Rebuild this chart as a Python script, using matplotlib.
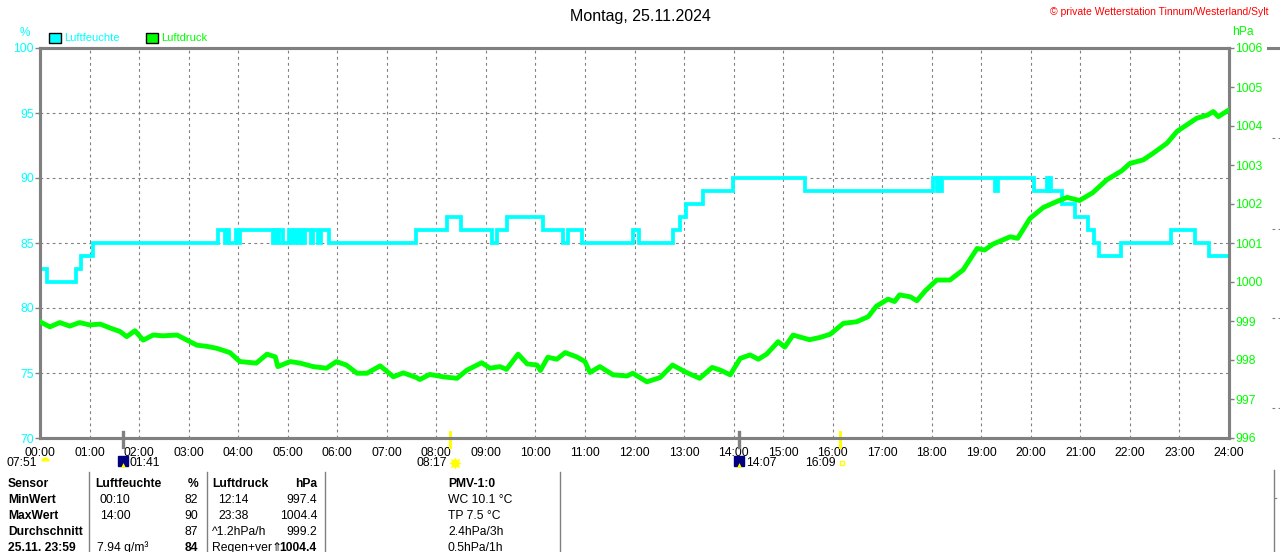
import matplotlib
matplotlib.use("Agg")
import matplotlib.pyplot as plt
from matplotlib.patches import Patch
from matplotlib.lines import Line2D

plt.rcParams['font.family'] = ['Liberation Sans', 'DejaVu Sans']

CYAN = '#00FFFF'
GREEN = '#00FF00'
GRAY = '#808080'
YELLOW = '#FFFF00'
NAVY = '#000080'

# --- Daten: Luftfeuchte (Stufen, Zeitpunkt der Änderung -> Wert in %) ---
hum_times = ["00:00", "00:09", "00:44", "00:50", "01:04", "03:35", "03:44", "03:46", "03:49",
             "03:57", "04:00", "04:02", "04:42", "04:44", "04:47", "04:50", "04:54", "05:02",
             "05:05", "05:09", "05:13", "05:16", "05:18", "05:21", "05:28", "05:31", "05:37",
             "05:40", "05:50", "07:35", "08:13", "08:30", "09:08", "09:13", "09:26", "10:09",
             "10:34", "10:40", "10:56", "11:58", "12:05", "12:47", "12:55", "13:02", "13:23",
             "13:59", "15:26", "18:02", "18:06", "18:08", "18:10", "18:13", "19:17", "19:20",
             "20:04", "20:19", "20:21", "20:23", "20:25", "20:38", "20:53", "21:09", "21:17",
             "21:23", "21:49", "22:50", "23:19", "23:36", "24:00"]
hum_values = [83, 82, 83, 84, 85, 86, 85, 86, 85,
              86, 85, 86, 85, 86, 85, 86, 85, 86,
              85, 86, 85, 86, 85, 86, 85, 86, 85,
              86, 85, 86, 87, 86, 85, 86, 87, 86,
              85, 86, 85, 86, 85, 86, 87, 88, 89,
              90, 89, 90, 89, 90, 89, 90, 89, 90,
              89, 90, 89, 90, 89, 88, 87, 86, 85,
              84, 85, 86, 85, 84, 84]

# --- Daten: Luftdruck in hPa ---
p_times = ["00:00", "00:12", "00:24", "00:36", "00:48", "01:00", "01:13", "01:25", "01:37",
           "01:45", "01:55", "02:05", "02:17", "02:29", "02:46", "02:58", "03:10", "03:22",
           "03:34", "03:50", "04:02", "04:22", "04:35", "04:45", "04:48", "05:03", "05:15",
           "05:31", "05:47", "05:59", "06:11", "06:24", "06:36", "06:52", "07:08", "07:20",
           "07:36", "07:40", "07:52", "08:08", "08:25", "08:37", "08:55", "09:05", "09:17",
           "09:25", "09:39", "09:50", "10:02", "10:06", "10:15", "10:26", "10:36", "10:50",
           "11:00", "11:06", "11:18", "11:34", "11:51", "11:58", "12:15", "12:31", "12:46",
           "13:03", "13:19", "13:34", "13:44", "13:56", "14:08", "14:20", "14:30", "14:40",
           "14:54", "15:02", "15:12", "15:32", "15:45", "15:57", "16:13", "16:29", "16:43",
           "16:53", "17:07", "17:15", "17:21", "17:34", "17:42", "17:52", "18:06", "18:22",
           "18:38", "18:55", "19:04", "19:14", "19:35", "19:44", "19:59", "20:15", "20:31",
           "20:44", "20:59", "21:15", "21:32", "21:50", "22:00", "22:16", "22:28", "22:45",
           "22:57", "23:09", "23:21", "23:34", "23:41", "23:47", "23:59"]
p_values = [998.98, 998.85, 998.96, 998.87, 998.96, 998.90, 998.92, 998.82, 998.73,
            998.60, 998.75, 998.51, 998.64, 998.62, 998.64, 998.51, 998.38, 998.35,
            998.30, 998.19, 997.96, 997.92, 998.15, 998.08, 997.83, 997.96, 997.92,
            997.83, 997.79, 997.96, 997.87, 997.66, 997.66, 997.85, 997.57, 997.67,
            997.55, 997.50, 997.63, 997.57, 997.53, 997.74, 997.93, 997.79, 997.83,
            997.76, 998.15, 997.90, 997.87, 997.73, 998.07, 998.02, 998.19, 998.08,
            997.96, 997.68, 997.83, 997.62, 997.59, 997.66, 997.44, 997.55, 997.87,
            997.68, 997.53, 997.81, 997.74, 997.62, 998.04, 998.13, 998.02, 998.15,
            998.47, 998.33, 998.64, 998.52, 998.58, 998.66, 998.94, 998.98, 999.11,
            999.38, 999.56, 999.50, 999.67, 999.62, 999.52, 999.77, 1000.05, 1000.05,
            1000.31, 1000.86, 1000.82, 1000.97, 1001.16, 1001.12, 1001.63, 1001.91, 1002.06,
            1002.17, 1002.09, 1002.29, 1002.62, 1002.85, 1003.04, 1003.13, 1003.30, 1003.56,
            1003.86, 1004.03, 1004.20, 1004.28, 1004.37, 1004.24, 1004.40]

hours = list(range(25))
hour_labels = [f"{h:02d}:00" for h in hours]
hum_ticks = [70, 75, 80, 85, 90, 95, 100]
p_ticks = list(range(996, 1007))

# Sonne / Mond
dawn_label = "07:51"
sun_times = ["08:17", "16:09"]
moon_times = ["01:41", "14:07"]

# Tabelle unten
tab_sensor = ["Sensor", "MinWert", "MaxWert", "Durchschnitt", "25.11. 23:59"]
tab_hum_time = ["Luftfeuchte", "00:10", "14:00", "", "7.94 g/m³"]
tab_hum_val = ["%", "82", "90", "87", "84"]
tab_p_time = ["Luftdruck", "12:14", "23:38", "^1.2hPa/h", "Regen+ver⇑"]
tab_p_val = ["hPa", "997.4", "1004.4", "999.2", "1004.4"]
tab_pmv = ["PMV-1:0", "WC 10.1 °C", "TP 7.5 °C", "2.4hPa/3h", "0.5hPa/1h"]


def to_h(s):
    hh, mm = s.split(":")
    return int(hh) + int(mm) / 60.0


W, H = 1280, 552
fig = plt.figure(figsize=(W / 100, H / 100), dpi=100)
fig.patch.set_facecolor('white')


def fx(x):
    return x / W


def fy(y):
    return 1 - y / H


ax = fig.add_axes([fx(40), fy(438), (1229 - 40) / W, 390 / H])
ax2 = ax.twinx()

ax.step([to_h(t) for t in hum_times], hum_values, where='post', color=CYAN, lw=2.7,
        solid_joinstyle='miter', zorder=3)
ax2.plot([to_h(t) for t in p_times], p_values, color=GREEN, lw=3.5, zorder=3)

ax.set_xlim(0, 24)
ax.set_ylim(70, 100)
ax2.set_ylim(996, 1006)

ax.set_xticks(hours)
ax.set_xticklabels(hour_labels, fontsize=8.7, color='black')
ax.set_yticks(hum_ticks)
ax.set_yticklabels([str(v) for v in hum_ticks], fontsize=8.7, color=CYAN)
ax2.set_yticks(p_ticks)
ax2.set_yticklabels([str(v) for v in p_ticks], fontsize=8.7, color=GREEN)

ax.tick_params(axis='x', length=0, pad=6.5)
ax.tick_params(axis='y', length=3.5, width=1, color=GRAY, pad=1)
ax2.tick_params(axis='y', length=3.5, width=1, color=GRAY, pad=1)

ax.grid(True, color=GRAY, linestyle=(0, (2.5, 3)), lw=0.8)
ax.set_axisbelow(True)

for a in (ax, ax2):
    for sp in a.spines.values():
        sp.set_color(GRAY)
        sp.set_linewidth(2.2)

# Achsentitel
fig.text(fx(25), fy(33), "%", color=CYAN, fontsize=8.5, ha='center', va='center')
fig.text(fx(1232), fy(32), "hPa", color=GREEN, fontsize=8.7, ha='left', va='center')

# Titel und Copyright
fig.text(0.5, fy(16), "Montag, 25.11.2024", fontsize=11.5, ha='center', va='center')
fig.text(fx(1268), fy(12), "© private Wetterstation Tinnum/Westerland/Sylt", color='red',
         fontsize=7.5, ha='right', va='center')

# Legende
handles = [Patch(facecolor=CYAN, edgecolor='black', lw=1),
           Patch(facecolor=GREEN, edgecolor='black', lw=1)]
leg = ax.legend(handles, ["Luftfeuchte", "Luftdruck"], loc='center left',
                bbox_to_anchor=(fx(49), fy(38)), bbox_transform=fig.transFigure,
                ncol=2, frameon=False, fontsize=8, handlelength=1.05, handleheight=1.05,
                handletextpad=0.3, columnspacing=2.4, borderaxespad=0, borderpad=0)
for txt, c in zip(leg.get_texts(), [CYAN, GREEN]):
    txt.set_color(c)

# Sonnen- und Mondmarken
trans = ax.get_xaxis_transform()
ylab = (438 - 463) / 390
for t in sun_times:
    ax.plot([to_h(t)] * 2, [-0.023, 0.015], color=YELLOW, lw=2.2, transform=trans, clip_on=False)
for t in moon_times:
    ax.plot([to_h(t)] * 2, [-0.023, 0.015], color=GRAY, lw=2.4, transform=trans, clip_on=False)

# 07:51 mit halber Sonne
ax.annotate(dawn_label, (0, ylab), xycoords=trans, xytext=(-2, 0), textcoords='offset points',
            ha='right', va='center', fontsize=8.7, annotation_clip=False)
ax.plot([0.1], [ylab + 0.006], marker='o', fillstyle='top', ms=6, mfc=YELLOW, mec='none',
        transform=trans, clip_on=False)

# Sonnenauf-/untergang
ax.annotate(sun_times[0], (to_h(sun_times[0]), ylab), xycoords=trans, xytext=(-2.5, 0),
            textcoords='offset points', ha='right', va='center', fontsize=8.7,
            annotation_clip=False)
ax.plot([to_h(sun_times[0]) + 0.09], [ylab], marker='o', ms=5, mfc=YELLOW, mec=YELLOW,
        transform=trans, clip_on=False)
ax.plot([to_h(sun_times[0]) + 0.09], [ylab], marker=(8, 2, 0), ms=8, mec=YELLOW, mew=0.8,
        transform=trans, clip_on=False)
ax.annotate(sun_times[1], (to_h(sun_times[1]), ylab), xycoords=trans, xytext=(-3, 0),
            textcoords='offset points', ha='right', va='center', fontsize=8.7,
            annotation_clip=False)
ax.plot([to_h(sun_times[1]) + 0.03], [ylab], marker='s', ms=3.5, mfc='none', mec=YELLOW,
        mew=1, transform=trans, clip_on=False)

# Mondauf-/untergang
for t in moon_times:
    ax.plot([to_h(t)], [ylab + 0.004], marker='s', ms=7.5, mfc=NAVY, mec=NAVY,
            transform=trans, clip_on=False)
    ax.plot([to_h(t)], [ylab - 0.004], marker='^', ms=3.5, mfc=YELLOW, mec='none',
            transform=trans, clip_on=False)
    ax.annotate(t, (to_h(t), ylab), xycoords=trans, xytext=(4.5, 0),
                textcoords='offset points', ha='left', va='center', fontsize=8.7,
                annotation_clip=False)

# Tabelle
row_y = [484, 500, 516, 532, 548]
for i, y in enumerate(row_y):
    w_row = 'bold' if i == 0 else 'normal'
    fig.text(fx(8), fy(y), tab_sensor[i], fontsize=8.7, weight='bold', va='center')
    fig.text(fx(95 if i == 0 else (97 if i == 4 else 100)), fy(y), tab_hum_time[i],
             fontsize=8.7, weight=w_row, va='center')
    fig.text(fx(198), fy(y), tab_hum_val[i], fontsize=8.7,
             weight='bold' if i in (0, 4) else 'normal', va='center', ha='right')
    fig.text(fx(212 if i in (0, 3, 4) else 218), fy(y), tab_p_time[i], fontsize=8.7,
             weight=w_row, va='center')
    fig.text(fx(317), fy(y), tab_p_val[i], fontsize=8.7,
             weight='bold' if i in (0, 4) else 'normal', va='center', ha='right')
    fig.text(fx(448), fy(y), tab_pmv[i], fontsize=8.7, weight=w_row, va='center')

for x in (89, 207, 325, 560):
    fig.add_artist(Line2D([fx(x), fx(x)], [fy(472), 0], color=GRAY, lw=1))

# Rand des nächsten Diagramms rechts
fig.add_artist(Line2D([fx(1268), 1], [fy(48), fy(48)], color=GRAY, lw=2.2))
for y in (138, 229, 318, 408):
    fig.add_artist(Line2D([fx(1272), 1], [fy(y), fy(y)], color=GRAY, lw=0.8,
                          linestyle=(0, (2.5, 3))))
fig.add_artist(Line2D([fx(1274), fx(1274)], [fy(470), 0], color=GRAY, lw=1))
fig.add_artist(Line2D([fx(1274), 1], [fy(498), fy(498)], color=GRAY, lw=0.8,
                      linestyle=(0, (2.5, 3))))

fig.savefig("out.png", dpi=100)
